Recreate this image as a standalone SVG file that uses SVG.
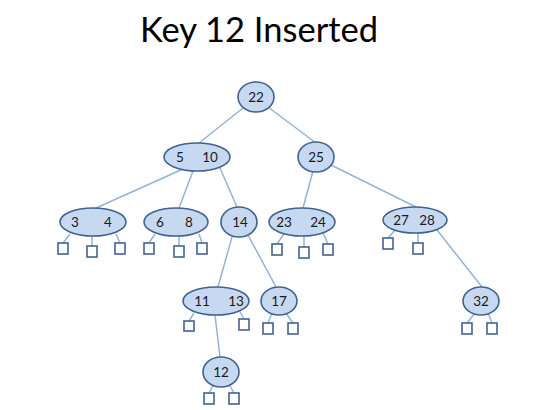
<svg xmlns="http://www.w3.org/2000/svg" width="535" height="410" viewBox="0 0 535 410">
<style>
.n{fill:#c6d9f1;stroke:#41638f;stroke-width:1.6}
.l{stroke:#95b3d7;stroke-width:1.5;fill:none}
.s{fill:#fff;stroke:#41638f;stroke-width:1.6}
text{font-family:Lato,"Open Sans","Liberation Sans",sans-serif;font-size:13.5px;fill:#1a1a1a;text-anchor:middle}
.t{font-size:34.5px;fill:#000}
</style>
<rect width="535" height="410" fill="#fff"/>
<text class="t" x="259" y="42">Key 12 Inserted</text>
<g id="connectors">
<path class="l" d="M243,108 L199,143 M268,107 L316,143 M183,169 L96,208 M193,171 L179,208 M220,168 L237,207 M313,171 L303,208 M331,165 L416,207 M232,237 L218,287 M248,235 L276,287 M437,230 L482,287 M215,315 L220,357"/>
<path class="l" d="M70,234 L63,243 M92,236 L92,246 M116,234 L120,243 M155,234 L149,243 M179,236 L179,246 M199,234 L202,243 M284,234 L277,244 M304,236 L304,247 M323,233 L328,244 M395,230 L388,238 M418,233 L418,243 M194,313 L189,321 M240,312 L244,319 M272,313 L268,323 M286,313 L293,323 M214,384 L209,393 M229,384 L234,393 M475,313 L467,323 M488,313 L492,323"/>
</g>
<g id="n22"><ellipse class="n" cx="256" cy="97" rx="18" ry="15"/><text x="256" y="102">22</text></g>
<g id="n5_10"><ellipse class="n" cx="197" cy="157" rx="33" ry="14"/><text x="180" y="162">5</text><text x="210" y="162">10</text></g>
<g id="n25"><ellipse class="n" cx="316" cy="157" rx="18" ry="15"/><text x="316" y="162">25</text></g>
<g id="n3_4"><ellipse class="n" cx="93" cy="222" rx="33" ry="14"/><text x="75" y="227">3</text><text x="108" y="227">4</text>
<rect class="s" x="58" y="243" width="10" height="11"/><rect class="s" x="87" y="246" width="10" height="11"/><rect class="s" x="115" y="243" width="10" height="11"/></g>
<g id="n6_8"><ellipse class="n" cx="176" cy="222" rx="32" ry="14"/><text x="160" y="227">6</text><text x="189" y="227">8</text>
<rect class="s" x="144" y="243" width="10" height="11"/><rect class="s" x="174" y="246" width="10" height="11"/><rect class="s" x="197" y="243" width="10" height="11"/></g>
<g id="n14"><ellipse class="n" cx="239" cy="222" rx="18" ry="15"/><text x="240" y="227">14</text></g>
<g id="n23_24"><ellipse class="n" cx="302" cy="222" rx="33" ry="14"/><text x="284" y="227">23</text><text x="318" y="227">24</text>
<rect class="s" x="272" y="244" width="10" height="11"/><rect class="s" x="299" y="247" width="10" height="11"/><rect class="s" x="323" y="244" width="10" height="11"/></g>
<g id="n27_28"><ellipse class="n" cx="415" cy="220" rx="32" ry="13"/><text x="401" y="225">27</text><text x="427" y="225">28</text>
<rect class="s" x="383" y="238" width="10" height="11"/><rect class="s" x="413" y="243" width="10" height="11"/></g>
<g id="n11_13"><ellipse class="n" cx="216" cy="301" rx="33" ry="14"/><text x="202" y="306">11</text><text x="236" y="306">13</text>
<rect class="s" x="184" y="321" width="10" height="10"/><rect class="s" x="239" y="319" width="10" height="11"/></g>
<g id="n17"><ellipse class="n" cx="279" cy="301" rx="18" ry="14"/><text x="279" y="306">17</text>
<rect class="s" x="263" y="323" width="10" height="11"/><rect class="s" x="288" y="323" width="10" height="11"/></g>
<g id="n12"><ellipse class="n" cx="221" cy="372" rx="18" ry="15"/><text x="221" y="377">12</text>
<rect class="s" x="204" y="393" width="10" height="11"/><rect class="s" x="229" y="393" width="10" height="11"/></g>
<g id="n32"><ellipse class="n" cx="481" cy="301" rx="18" ry="14"/><text x="481" y="306">32</text>
<rect class="s" x="462" y="323" width="10" height="11"/><rect class="s" x="487" y="323" width="10" height="11"/></g>
</svg>
